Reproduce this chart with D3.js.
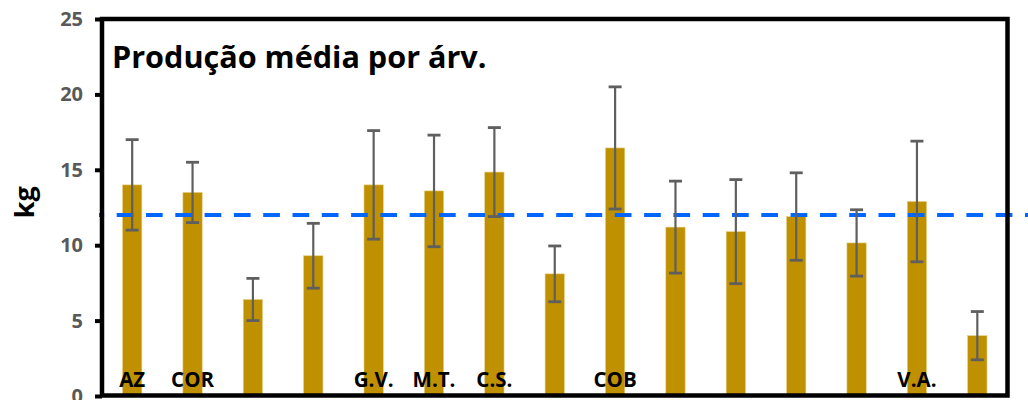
<!DOCTYPE html>
<html>
<head>
<meta charset="utf-8">
<script src="https://cdn.jsdelivr.net/npm/d3@7"></script>
<style>
  html, body { margin: 0; padding: 0; background: #fff; }
  svg { display: block; }
</style>
</head>
<body>
<svg id="chart" width="1028" height="400"></svg>
<script>
// Mean production per tree (kg) with standard deviation, one bar per plot
const labels = ["AZ", "COR", "", "", "G.V.", "M.T.", "C.S.", "", "COB", "", "", "", "", "V.A.", ""];
const means  = [14.0, 13.5, 6.4, 9.3, 14.0, 13.6, 14.85, 8.1, 16.45, 11.2, 10.9, 11.9, 10.15, 12.9, 4.0];
const sd     = [3.0, 2.0, 1.4, 2.15, 3.6, 3.7, 2.95, 1.85, 4.05, 3.05, 3.45, 2.9, 2.2, 4.0, 1.6];
const overallMean = 12;
const yTicks = [0, 5, 10, 15, 20, 25];
const title = "Produção média por árv.";
const yTitle = "kg";

const font = "'Open Sans', 'Noto Sans', sans-serif";
const svg = d3.select("#chart");

const plotLeft = 102, plotRight = 1007.5, plotTop = 19, plotBottom = 395.5;

const x = d3.scaleBand()
  .domain(d3.range(means.length))
  .range([plotLeft, plotRight])
  .paddingInner(0.68)
  .paddingOuter(0.34);

const y = d3.scaleLinear().domain([0, 25]).range([396, 19]);

// bars
svg.append("g").selectAll("rect")
  .data(means)
  .join("rect")
  .attr("x", (d, i) => x(i))
  .attr("width", x.bandwidth())
  .attr("y", d => y(d))
  .attr("height", d => y(0) - y(d))
  .attr("fill", "#bf9000")
  .attr("stroke", "#e6cf8a")
  .attr("stroke-width", 0.6);

// overall mean, dashed
svg.append("line")
  .attr("x1", 99).attr("x2", 1028)
  .attr("y1", y(overallMean)).attr("y2", y(overallMean))
  .attr("stroke", "#0066ff")
  .attr("stroke-width", 4)
  .attr("stroke-dasharray", "16.7,12.6")
  .attr("stroke-dashoffset", 11.6);

// error bars
const eb = svg.append("g")
  .attr("stroke", "#5f5f5f")
  .attr("stroke-width", 2.2);
means.forEach((m, i) => {
  const cx = x(i) + x.bandwidth() / 2;
  const hi = y(m + sd[i]), lo = y(m - sd[i]);
  eb.append("line").attr("x1", cx).attr("x2", cx).attr("y1", hi).attr("y2", lo);
  eb.append("line").attr("x1", cx - 6.5).attr("x2", cx + 6.5).attr("y1", hi).attr("y2", hi).attr("stroke-width", 2.8);
  eb.append("line").attr("x1", cx - 6.5).attr("x2", cx + 6.5).attr("y1", lo).attr("y2", lo).attr("stroke-width", 2.8);
});

// frame
svg.append("rect")
  .attr("x", plotLeft).attr("y", plotTop)
  .attr("width", plotRight - plotLeft).attr("height", plotBottom - plotTop)
  .attr("fill", "none")
  .attr("stroke", "#000")
  .attr("stroke-width", 4.5);

// y axis
const yAxis = d3.axisLeft(y).tickValues(yTicks).tickSize(7).tickPadding(12).tickFormat(d3.format("d"));
const ga = svg.append("g").attr("transform", `translate(${plotLeft},0)`).call(yAxis);
ga.select(".domain").remove();
ga.selectAll(".tick line").attr("stroke", "#000").attr("stroke-width", 4);
ga.selectAll(".tick text")
  .attr("fill", "#595959")
  .style("font-family", font)
  .style("font-weight", "700")
  .style("font-size", "20px");

// category labels
svg.append("g").selectAll("text")
  .data(labels)
  .join("text")
  .attr("x", (d, i) => x(i) + x.bandwidth() / 2)
  .attr("y", 387)
  .attr("text-anchor", "middle")
  .style("font-family", font)
  .style("font-weight", "700")
  .style("font-size", "20.5px")
  .attr("fill", "#000")
  .text(d => d);

// title
svg.append("text")
  .attr("x", 112).attr("y", 68)
  .style("font-family", font)
  .style("font-weight", "700")
  .style("font-size", "30.6px")
  .attr("fill", "#000")
  .text(title);

// y title
svg.append("text")
  .attr("transform", `translate(34,${(plotTop + plotBottom) / 2 - 5}) rotate(-90)`)
  .attr("text-anchor", "middle")
  .style("font-family", font)
  .style("font-weight", "700")
  .style("font-size", "27px")
  .attr("fill", "#000")
  .text(yTitle);
</script>
</body>
</html>
